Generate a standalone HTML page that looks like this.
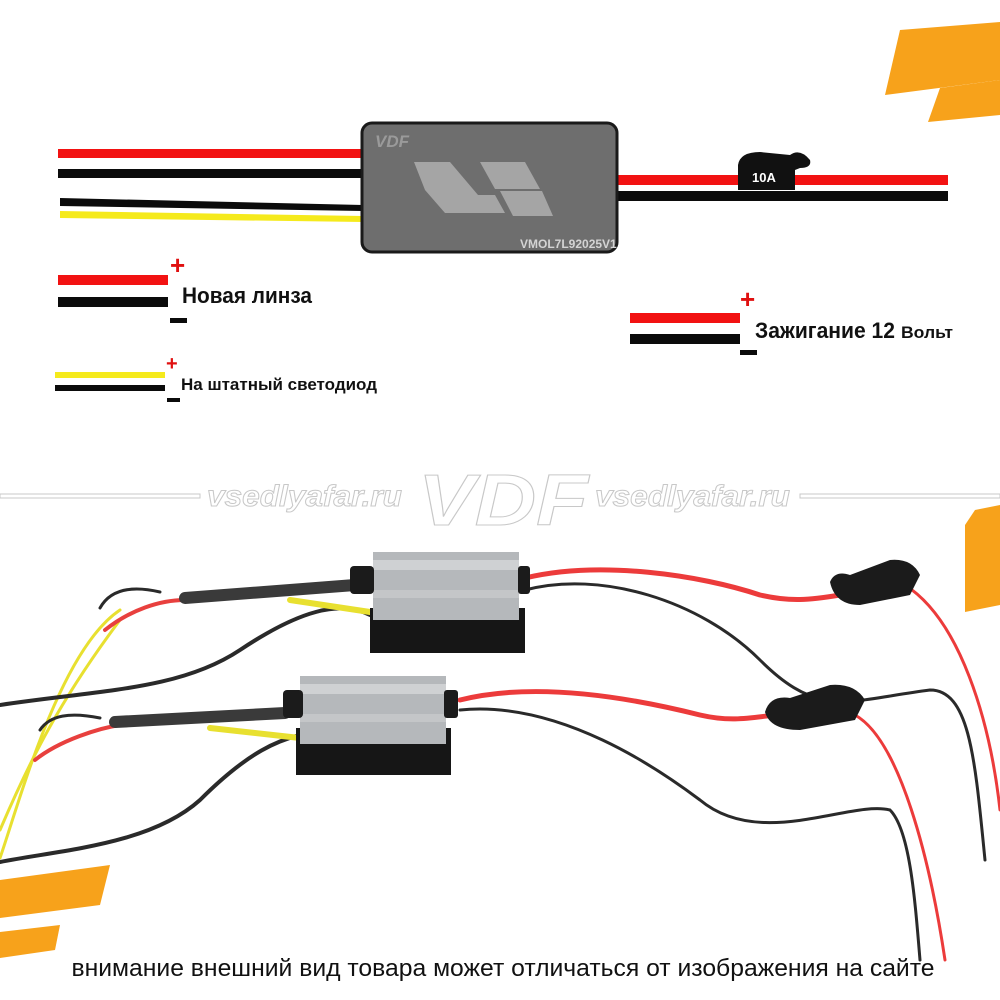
<!DOCTYPE html>
<html><head><meta charset="utf-8"><style>
html,body{margin:0;padding:0;background:#fff;}
svg{display:block}
</style></head><body>
<svg width="1000" height="1000" viewBox="0 0 1000 1000" xmlns="http://www.w3.org/2000/svg" font-family="Liberation Sans, sans-serif">
<rect width="1000" height="1000" fill="#fff"/>
<polygon points="900,30 1000,22 1000,80 885,95" fill="#f7a21b"/>
<polygon points="940,88 1000,80 1000,115 928,122" fill="#f7a21b"/>
<polygon points="975,510 1000,505 1000,605 965,612 965,525" fill="#f7a21b"/>
<polygon points="0,880 110,865 100,905 0,918" fill="#f7a21b"/>
<polygon points="0,932 60,925 55,950 0,958" fill="#f7a21b"/>
<rect x="58" y="149" width="305" height="9" fill="#f21212"/>
<rect x="58" y="169" width="305" height="9" fill="#0b0b0b"/>
<polygon points="60,198 363,205 363,211 60,206" fill="#0b0b0b"/>
<polygon points="60,211 363,216 363,222 60,218" fill="#f5ea1c"/>
<rect x="615" y="175" width="333" height="10" fill="#f21212"/>
<rect x="615" y="191" width="333" height="10" fill="#0b0b0b"/>
<rect x="362" y="123" width="255" height="129" rx="10" fill="#6e6e6e" stroke="#1a1a1a" stroke-width="3"/>
<text x="375" y="147" font-size="17" font-weight="bold" font-style="italic" fill="#9a9a9a">VDF</text>
<polygon points="414,162 450,162 478,195 495,195 505,213 445,213 425,190" fill="#a5a5a5"/>
<polygon points="480,162 525,162 540,189 495,189" fill="#a5a5a5"/>
<polygon points="500,191 542,191 553,216 513,216" fill="#a5a5a5"/>
<text x="520" y="248" font-size="12" font-weight="bold" fill="#d4d4d4">VMOL7L92025V1</text>
<path d="M738,165 Q740,152 760,152 L790,155 Q800,148 810,160 Q812,168 800,168 L795,170 L795,190 L738,190 Z" fill="#111"/>
<text x="752" y="182" font-size="13" font-weight="bold" fill="#fff">10A</text>
<rect x="58" y="275" width="110" height="10" fill="#f21212"/>
<rect x="58" y="297" width="110" height="10" fill="#0b0b0b"/>
<text x="170" y="274" font-size="26" font-weight="bold" fill="#e01010">+</text>
<rect x="170" y="318" width="17" height="5" fill="#0b0b0b"/>
<text x="182" y="303" font-size="22" font-weight="bold" fill="#111" textLength="130" lengthAdjust="spacingAndGlyphs">Новая линза</text>
<rect x="55" y="372" width="110" height="6" fill="#f5ea1c"/>
<rect x="55" y="385" width="110" height="6" fill="#0b0b0b"/>
<text x="166" y="370" font-size="20" font-weight="bold" fill="#e01010">+</text>
<rect x="167" y="398" width="13" height="4" fill="#0b0b0b"/>
<text x="181" y="390" font-size="17" font-weight="bold" fill="#111" textLength="196" lengthAdjust="spacingAndGlyphs">На штатный светодиод</text>
<rect x="630" y="313" width="110" height="10" fill="#f21212"/>
<rect x="630" y="334" width="110" height="10" fill="#0b0b0b"/>
<text x="740" y="308" font-size="26" font-weight="bold" fill="#e01010">+</text>
<rect x="740" y="350" width="17" height="5" fill="#0b0b0b"/>
<text x="755" y="338" font-size="22" font-weight="bold" fill="#111" textLength="140" lengthAdjust="spacingAndGlyphs">Зажигание 12</text>
<text x="901" y="338" font-size="17" font-weight="bold" fill="#111" textLength="52" lengthAdjust="spacingAndGlyphs">Вольт</text>
<g fill="#fff" stroke="#c8c8c8" stroke-width="1">
<rect x="0" y="494" width="200" height="4"/>
<rect x="800" y="494" width="200" height="4"/>
<text x="207" y="506" font-size="30" font-weight="bold" font-style="italic" textLength="195" lengthAdjust="spacingAndGlyphs">vsedlyafar.ru</text>
<text x="595" y="506" font-size="30" font-weight="bold" font-style="italic" textLength="195" lengthAdjust="spacingAndGlyphs">vsedlyafar.ru</text>
<text x="418" y="525" font-size="72" font-weight="bold" font-style="italic" textLength="170" lengthAdjust="spacingAndGlyphs">VDF</text>
</g>
<g fill="none" stroke-linecap="round">
<path d="M0,862 C60,850 150,845 200,800 C250,750 280,740 300,735" stroke="#2a2a2a" stroke-width="4"/>
<path d="M0,858 C20,800 60,650 120,610" stroke="#e8e030" stroke-width="3"/>
<path d="M0,830 C30,760 60,700 120,620" stroke="#e8e030" stroke-width="3"/>
<path d="M0,705 C100,690 180,690 240,650 C300,610 340,600 370,615" stroke="#2a2a2a" stroke-width="4"/>
<path d="M100,608 C110,590 130,585 160,592" stroke="#2a2a2a" stroke-width="3"/>
<path d="M105,630 C130,610 160,600 185,600" stroke="#e8403e" stroke-width="4"/>
<path d="M185,598 L355,585" stroke="#3a3a3a" stroke-width="12"/>
<path d="M290,600 L370,612" stroke="#e8e030" stroke-width="6"/>
<path d="M40,730 C50,715 70,712 100,718" stroke="#2a2a2a" stroke-width="3"/>
<path d="M35,760 C60,740 100,728 120,725" stroke="#e8403e" stroke-width="4"/>
<path d="M115,722 L285,713" stroke="#3a3a3a" stroke-width="12"/>
<path d="M210,728 L300,738" stroke="#e8e030" stroke-width="6"/>
<path d="M525,578 C600,560 700,575 760,595 C790,602 810,600 840,595" stroke="#ec3b3b" stroke-width="5"/>
<path d="M525,590 C600,570 700,600 760,660 C820,720 850,700 930,690 C970,690 975,760 985,860" stroke="#2a2a2a" stroke-width="3"/>
<path d="M905,585 C960,620 990,720 1000,810" stroke="#ec3b3b" stroke-width="3"/>
<path d="M460,700 C540,680 640,700 700,715 C730,722 750,718 775,715" stroke="#ec3b3b" stroke-width="5"/>
<path d="M460,710 C560,700 660,770 700,800 C760,850 850,800 890,810 C910,830 915,900 920,960" stroke="#2a2a2a" stroke-width="3"/>
<path d="M855,715 C900,740 930,860 945,960" stroke="#ec3b3b" stroke-width="3"/>
</g>
<path d="M830,582 Q835,570 850,575 L890,560 Q912,558 920,575 L910,595 L860,605 Q835,605 830,582 Z" fill="#1b1b1b"/>
<path d="M765,712 Q770,695 790,698 L830,685 Q855,683 865,700 L855,720 L800,730 Q770,730 765,712 Z" fill="#1b1b1b"/>
<g>
<rect x="370" y="608" width="155" height="45" fill="#161616"/>
<rect x="373" y="552" width="146" height="68" fill="#b5b8bb"/>
<rect x="373" y="560" width="146" height="10" fill="#cfd1d3"/>
<rect x="373" y="590" width="146" height="8" fill="#c4c6c8"/>
<rect x="350" y="566" width="24" height="28" rx="4" fill="#1b1b1b"/>
<rect x="518" y="566" width="12" height="28" rx="3" fill="#1b1b1b"/>
<rect x="296" y="728" width="155" height="47" fill="#161616"/>
<rect x="300" y="676" width="146" height="68" fill="#b5b8bb"/>
<rect x="300" y="684" width="146" height="10" fill="#cfd1d3"/>
<rect x="300" y="714" width="146" height="8" fill="#c4c6c8"/>
<rect x="283" y="690" width="20" height="28" rx="4" fill="#1b1b1b"/>
<rect x="444" y="690" width="14" height="28" rx="3" fill="#1b1b1b"/>
</g>
<text x="503" y="976" text-anchor="middle" font-size="24" fill="#111" textLength="863" lengthAdjust="spacingAndGlyphs">внимание внешний вид товара может отличаться от изображения на сайте</text>
</svg>
</body></html>
